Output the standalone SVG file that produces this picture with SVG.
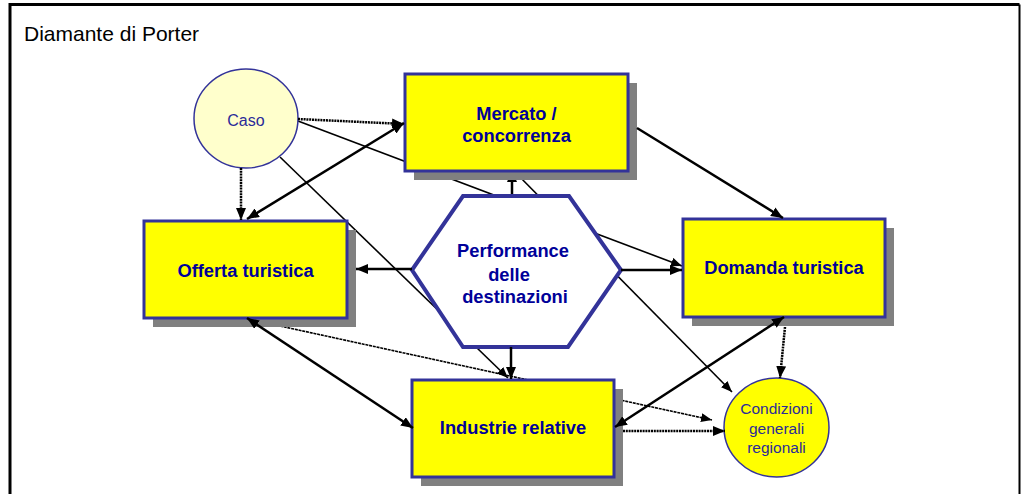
<svg xmlns="http://www.w3.org/2000/svg" width="1021" height="494" viewBox="0 0 1021 494">
<style>
.frame{fill:none;stroke:#000;}
.title{font-family:"Liberation Sans",Arial,sans-serif;font-size:21px;fill:#000;}
.shadow{fill:#808080;}
.box{fill:#ffff00;stroke:#333399;stroke-width:3;}
.lbl{font-family:"Liberation Sans",Arial,sans-serif;font-size:18.3px;font-weight:bold;fill:#000099;text-anchor:middle;}
.small{font-family:"Liberation Sans",Arial,sans-serif;font-size:15.5px;fill:#2b2b99;text-anchor:middle;}
.thick{stroke:#000;stroke-width:2.5;fill:none;}
.thin{stroke:#000;stroke-width:1.6;fill:none;}
.dot{stroke:#000;stroke-width:2.5;fill:none;stroke-dasharray:2 0.8;}
.tdot{stroke:#000;stroke-width:1.6;fill:none;stroke-dasharray:3 0.8;}
</style>
<defs>
<marker id="ah" markerUnits="userSpaceOnUse" markerWidth="12" markerHeight="10" refX="12" refY="5" orient="auto-start-reverse"><path d="M0,0 L12,5 L0,10 z" fill="#000"/></marker>
<marker id="ahs" markerUnits="userSpaceOnUse" markerWidth="11" markerHeight="9" refX="11" refY="4.5" orient="auto"><path d="M0,0 L11,4.5 L0,9 z" fill="#000"/></marker>
</defs>
<rect width="1021" height="494" fill="#fff"/>
<path class="frame" d="M10,500 L10,4.5 L1019.5,4.5" stroke-width="3"/>
<path class="frame" d="M1019.5,4.5 L1019.5,500" stroke-width="2"/>
<text class="title" x="24" y="41">Diamante di Porter</text>
<g id="connectors-under">
<path class="thin" d="M280,157 L508,378" marker-end="url(#ahs)"/>
<path class="thin" d="M298,121 L682,266" marker-end="url(#ahs)"/>
<path class="thick" d="M512,196 L512,170" marker-end="url(#ah)"/>
<path class="thin" d="M514,171 L732,392" marker-end="url(#ahs)"/>
<path class="tdot" d="M280,326 L712,420" marker-end="url(#ahs)"/>
</g>
<g id="caso">
<ellipse cx="246" cy="118.5" rx="52" ry="49.5" fill="#ffffcc" stroke="#333399" stroke-width="1.5"/>
<text class="small" x="246" y="126" style="font-size:16px">Caso</text>
</g>
<g id="mercato">
<rect class="shadow" x="414" y="83" width="223" height="97"/>
<rect class="box" x="405" y="74" width="223" height="97"/>
<text class="lbl" x="516.5" y="120">Mercato /</text>
<text class="lbl" x="516.5" y="142">concorrenza</text>
</g>
<g id="offerta">
<rect class="shadow" x="153" y="230" width="203" height="97"/>
<rect class="box" x="144" y="221" width="203" height="97"/>
<text class="lbl" x="245.5" y="277">Offerta turistica</text>
</g>
<g id="domanda">
<rect class="shadow" x="692" y="228" width="202" height="98"/>
<rect class="box" x="683" y="219" width="202" height="98"/>
<text class="lbl" x="784" y="274">Domanda turistica</text>
</g>
<g id="industrie">
<rect class="shadow" x="421" y="389" width="202" height="97"/>
<rect class="box" x="412" y="380" width="202" height="97"/>
<text class="lbl" x="513" y="434">Industrie relative</text>
</g>
<g id="performance">
<polygon points="412,270 463,196 569,196 621,270 568,347 463,347" fill="#fff" stroke="#333399" stroke-width="4"/>
<text class="lbl" x="513" y="257">Performance</text>
<text class="lbl" x="509" y="281">delle</text>
<text class="lbl" x="515" y="303">destinazioni</text>
</g>
<g id="condizioni">
<ellipse cx="776.5" cy="427.5" rx="52.5" ry="49.5" fill="#ffff00" stroke="#333399" stroke-width="1.5"/>
<text class="small" x="776.5" y="414">Condizioni</text>
<text class="small" x="776.5" y="434">generali</text>
<text class="small" x="776.5" y="453">regionali</text>
</g>
<g id="connectors">
<path class="dot" d="M298,119 L404,124" marker-end="url(#ah)"/>
<path class="dot" d="M241,168 L241,220" marker-end="url(#ah)"/>
<path class="thick" d="M247,219 L404,123" marker-start="url(#ah)" marker-end="url(#ah)"/>
<path class="thick" d="M621,270 L682,270" marker-end="url(#ah)"/>
<path class="thick" d="M412,269 L356,269" marker-end="url(#ah)"/>
<path class="thick" d="M511,347 L511,379" marker-end="url(#ah)"/>
<path class="thick" d="M637,128 L783,218" marker-end="url(#ah)"/>
<path class="thick" d="M247,318 L413,428" marker-start="url(#ah)" marker-end="url(#ah)"/>
<path class="dot" d="M623,431 L725,431" marker-end="url(#ah)"/>
<path class="thick" d="M615,427 L784,317" marker-start="url(#ah)" marker-end="url(#ah)"/>
<path class="dot" d="M785,327 L780,378" marker-end="url(#ah)"/>
</g>
</svg>
